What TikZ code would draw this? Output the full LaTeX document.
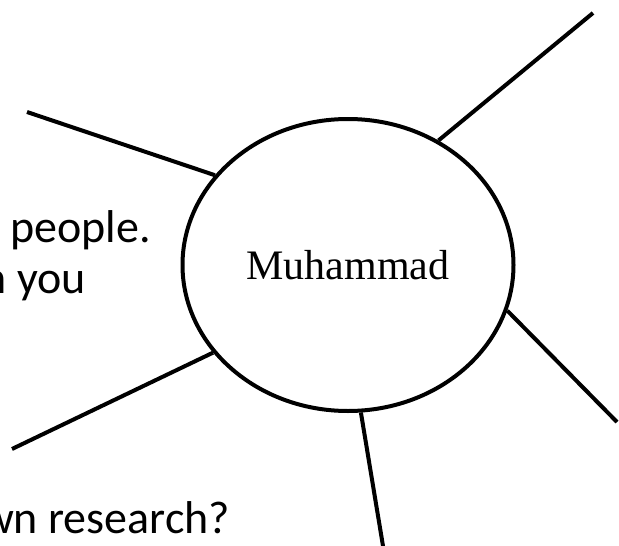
\documentclass[tikz,border=0pt]{standalone}
\usepackage{fontspec}
\setmainfont{Liberation Serif}
\newfontfamily\calibri{Carlito}
\usetikzlibrary{shapes.geometric}
\begin{document}
\begin{tikzpicture}[x=1pt,y=-1pt,line width=4pt,
	hub/.style={draw,ellipse,minimum width=331pt,minimum height=292pt,
		inner sep=0pt,font=\fontsize{42}{46}\selectfont},
	clue/.style={anchor=base east,inner sep=0pt,
		font=\calibri\fontsize{46}{50}\selectfont}]
	\useasboundingbox (0,0) rectangle (619,546);
	\clip (0,0) rectangle (619,546);
	\path (348,265) node[hub](hub){Muhammad};
	\foreach \x/\y/\texn in {153/242/people.,
		88/293/n you,232/533/wn research?} \path
	(\x,\y) node[clue](t\y){\texn};
	\foreach \n/\x/\y in {endnw/27/112,endne/593/13,
		endse/617/422,ends/384/552,endsw/12/449}
	\coordinate (\n) at (\x,\y);
	\foreach \a/\n in {146.5/endnw,54.4/endne,
		-16.4/endse,-85.3/ends,213.7/endsw}
	\draw (hub.\a)--(\n);
\end{tikzpicture}
\end{document}
